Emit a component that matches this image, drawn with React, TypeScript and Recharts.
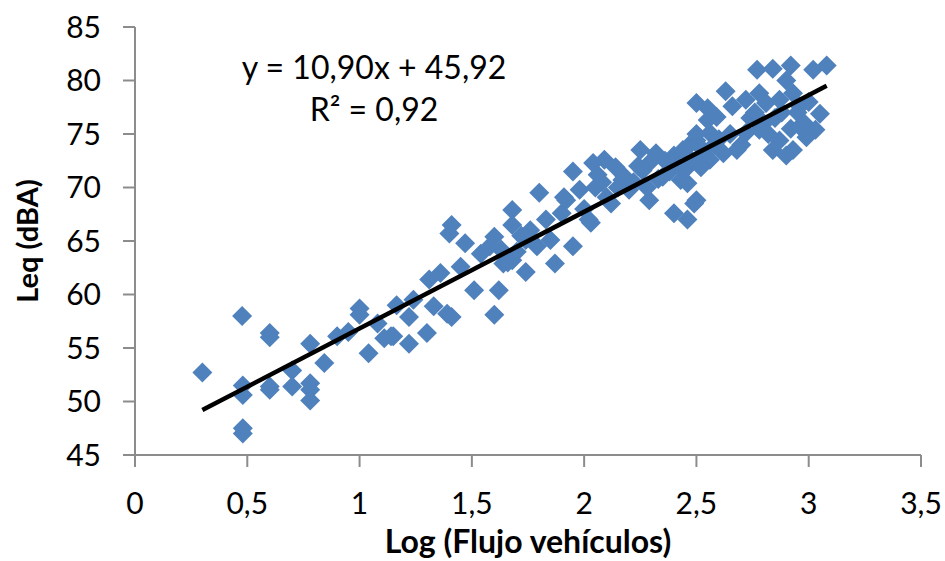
import React from 'react';
import { ScatterChart, Scatter, XAxis, YAxis, Label } from 'recharts';

// lecturas: log del flujo vs Leq
const logFlujo = [
  0.3, 0.477, 0.48, 0.48, 0.48, 0.48, 0.6, 0.6, 0.6, 0.6, 0.7, 0.7, 0.78, 0.78, 0.78, 0.78,
  0.843, 0.9, 0.95, 1.0, 1.0, 1.04, 1.08, 1.11, 1.15, 1.165, 1.14, 1.22, 1.3, 1.22, 1.24, 1.31,
  1.36, 1.33, 1.39, 1.41, 1.41, 1.4, 1.47, 1.45, 1.51, 1.54, 1.58, 1.6, 1.62, 1.6, 1.64, 1.68,
  1.68, 1.68, 1.74, 1.74, 1.79, 1.85, 1.87, 1.9, 1.95, 1.92, 1.8, 1.63, 1.66, 1.7, 1.72, 1.76,
  1.83, 1.91, 1.95, 1.98, 2.03, 2.04, 2.06, 2.1, 2.09, 2.14, 2.17, 2.2, 2.25, 2.26, 2.29, 2.32,
  2.35, 2.4, 2.46, 2.5, 2.43, 2.46, 2.52, 2.5, 2.56, 2.55, 2.0, 2.02, 2.05, 2.08, 2.12, 2.15,
  2.18, 2.22, 2.24, 2.28, 2.3, 2.33, 2.36, 2.38, 2.4, 2.42, 2.44, 2.47, 2.48, 2.5, 2.53, 2.58,
  2.6, 2.65, 2.7, 2.74, 2.76, 2.8, 2.82, 2.85, 2.88, 2.92, 2.95, 2.98, 3.0, 2.77, 2.84, 2.92,
  2.9, 3.02, 3.08, 2.63, 2.5, 2.55, 2.59, 2.66, 2.72, 2.78, 2.81, 2.87, 2.93, 2.96, 3.05, 3.03,
  2.96, 2.99, 2.93, 2.87, 2.84, 2.78, 2.72, 2.68, 2.62, 2.56, 2.52, 2.46, 2.49, 2.9,
];
const leq = [
  52.7, 58.0, 51.5, 50.6, 47.5, 47.0, 56.4, 56.0, 51.4, 51.1, 52.9, 51.4, 55.4, 51.7, 51.1, 50.1,
  53.6, 56.1, 56.5, 58.7, 58.1, 54.5, 57.3, 55.9, 56.1, 59.0, 56.1, 55.4, 56.4, 57.9, 59.5, 61.4,
  62.0, 58.9, 58.2, 57.9, 66.5, 65.7, 64.8, 62.6, 60.4, 63.8, 64.5, 65.4, 60.4, 58.1, 62.9, 63.2,
  67.9, 66.5, 62.1, 65.1, 64.5, 65.1, 62.9, 67.6, 64.5, 68.8, 69.5, 64.2, 63.0, 64.0, 65.5, 66.0,
  67.0, 69.1, 71.5, 69.8, 66.7, 72.3, 71.2, 69.1, 72.6, 71.9, 70.7, 69.8, 73.5, 71.6, 68.8, 73.2,
  71.0, 67.6, 67.0, 68.8, 70.7, 71.9, 72.6, 74.4, 75.1, 76.3, 68.0, 67.0, 70.0, 70.5, 68.5, 70.0,
  71.0, 70.5, 72.0, 70.0, 72.5, 70.8, 72.5, 71.5, 73.0, 72.0, 73.5, 74.0, 72.5, 75.0, 73.5, 74.0,
  74.5, 75.0, 74.0, 76.5, 77.0, 76.0, 75.0, 76.5, 77.0, 75.5, 77.0, 76.0, 78.0, 81.0, 81.1, 81.4,
  80.0, 81.0, 81.4, 79.0, 77.9, 77.4, 76.6, 77.6, 78.2, 78.8, 77.9, 78.2, 78.8, 77.6, 76.9, 75.4,
  75.7, 74.7, 73.5, 74.4, 73.5, 75.4, 75.1, 73.5, 73.2, 72.6, 71.9, 70.4, 68.5, 73.0,
];
const puntos = logFlujo.map((x, i) => ({ x, y: leq[i] }));

// extremos de la línea de tendencia
const tendencia = [
  { x: 0.3, y: 49.2 },
  { x: 3.08, y: 79.5 },
];

const xTicks = [0, 0.5, 1, 1.5, 2, 2.5, 3, 3.5];
const yTicks = [45, 50, 55, 60, 65, 70, 75, 80, 85];

const FONT = 'Lato, "Open Sans", sans-serif';
const AXIS_GREY = '#8c8c8c';

const coma = (v: number) => String(v).replace('.', ',');

const Diamante = (props: any) => {
  const { cx, cy } = props;
  const r = 10;
  return (
    <polygon
      points={`${cx},${cy - r} ${cx + r},${cy} ${cx},${cy + r} ${cx - r},${cy}`}
      fill="#4F81BD"
    />
  );
};

export default function App() {
  return (
    <div style={{ position: 'absolute', left: 0, top: 0, width: 945, height: 561, background: '#fff', fontFamily: FONT }}>
      <ScatterChart width={945} height={561} margin={{ top: 27, right: 24, bottom: 0, left: 0 }}>
        <XAxis
          type="number"
          dataKey="x"
          domain={[0, 3.5]}
          ticks={xTicks}
          tickFormatter={coma}
          height={106}
          stroke={AXIS_GREY}
          strokeWidth={2}
          tickSize={12}
          tickMargin={26}
          tick={{ fontSize: 30, fill: '#000', fontFamily: FONT }}
        >
          <Label
            value="Log (Flujo vehículos)"
            position="insideBottom"
            offset={8}
            style={{ fontSize: 32, fontWeight: 'bold', fill: '#000', fontFamily: FONT }}
          />
        </XAxis>
        <YAxis
          type="number"
          dataKey="y"
          domain={[45, 85]}
          ticks={yTicks}
          width={135}
          stroke={AXIS_GREY}
          strokeWidth={2}
          tickSize={12}
          tickMargin={22}
          tick={{ fontSize: 30, fill: '#000', fontFamily: FONT }}
        >
          <Label
            content={() => (
              <text
                x={26}
                y={241}
                transform="rotate(-90 26 241)"
                textAnchor="middle"
                dominantBaseline="central"
                style={{ fontSize: 29, fontWeight: 'bold', fill: '#000', fontFamily: FONT }}
              >
                Leq (dBA)
              </text>
            )}
          />
        </YAxis>
        <Scatter data={puntos} shape={Diamante} isAnimationActive={false} />
        <Scatter
          data={tendencia}
          line={{ stroke: '#000', strokeWidth: 4.5 }}
          shape={() => <g />}
          isAnimationActive={false}
        />
      </ScatterChart>
      <div style={{ position: 'absolute', left: 204, top: 46, width: 340, textAlign: 'center', fontSize: 32, lineHeight: '42px', color: '#000' }}>
        <div>y = 10,90x + 45,92</div>
        <div>R² = 0,92</div>
      </div>
    </div>
  );
}
